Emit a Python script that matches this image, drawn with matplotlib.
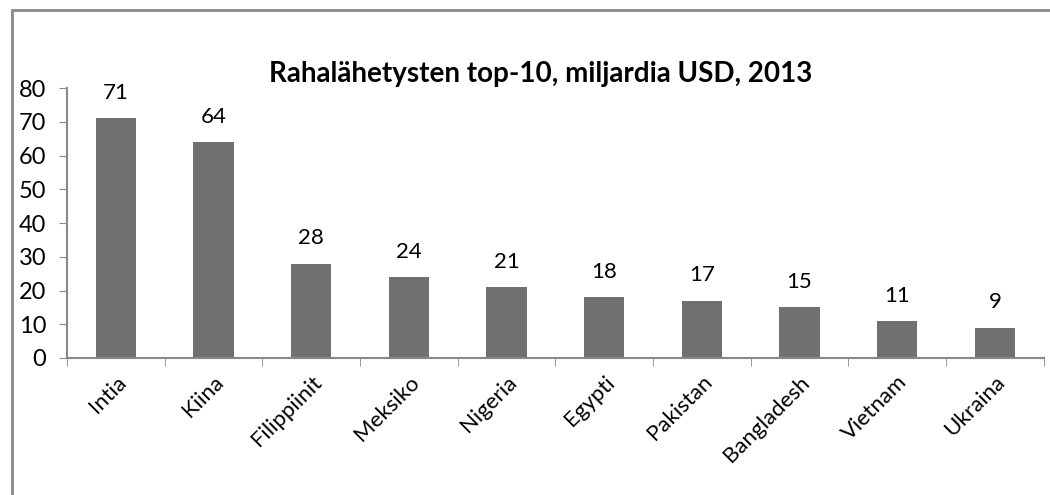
import numpy as np
from matplotlib import pyplot as plt
from matplotlib.patches import Rectangle

countries = ['Intia', 'Kiina', 'Filippiinit', 'Meksiko', 'Nigeria',
             'Egypti', 'Pakistan', 'Bangladesh', 'Vietnam', 'Ukraina']
values = [71, 64, 28, 24, 21, 18, 17, 15, 11, 9]
yticks = [0, 10, 20, 30, 40, 50, 60, 70, 80]

plt.rcParams['font.family'] = ['Lato', 'DejaVu Sans']

fig = plt.figure(figsize=(10.5, 4.95), dpi=100)
ax = fig.add_axes([0.0638, 0.2768, 0.9302, 0.5452])

x = np.arange(len(countries))
ax.bar(x, values, width=0.41, color='#707070')
for xi, v in zip(x, values):
    ax.text(xi, v + 4.5, str(v), ha='center', va='bottom', fontsize=16, color='black')

ax.set_xlim(-0.5, len(countries) - 0.5)
ax.set_ylim(0, 80)
ax.set_yticks(yticks)
ax.set_yticklabels([str(t) for t in yticks], fontsize=17)
ax.set_xticks(x)
ax.set_xticklabels(countries, rotation=45, ha='right', rotation_mode='anchor', fontsize=16)
ax.set_xticks(np.arange(len(countries) + 1) - 0.5, minor=True)
ax.tick_params(axis='x', which='major', length=0, pad=10)
ax.tick_params(axis='x', which='minor', length=6, color='#888888', direction='out')
ax.tick_params(axis='y', length=6, color='#888888', direction='out', pad=9)

for s in ['top', 'right']:
    ax.spines[s].set_visible(False)
for s in ['left', 'bottom']:
    ax.spines[s].set_color('#888888')
    ax.spines[s].set_linewidth(1.5)

fig.text(0.515, 0.85, 'Rahalähetysten top-10, miljardia USD, 2013',
         ha='center', va='center', fontsize=20, fontweight='bold')

fig.patches.append(Rectangle((12 / 1050, -0.1), 1.2, 1 - 10 / 495 + 0.1,
                             transform=fig.transFigure, fill=False,
                             edgecolor='#888888', linewidth=2))

fig.savefig('out.png', dpi=100)
